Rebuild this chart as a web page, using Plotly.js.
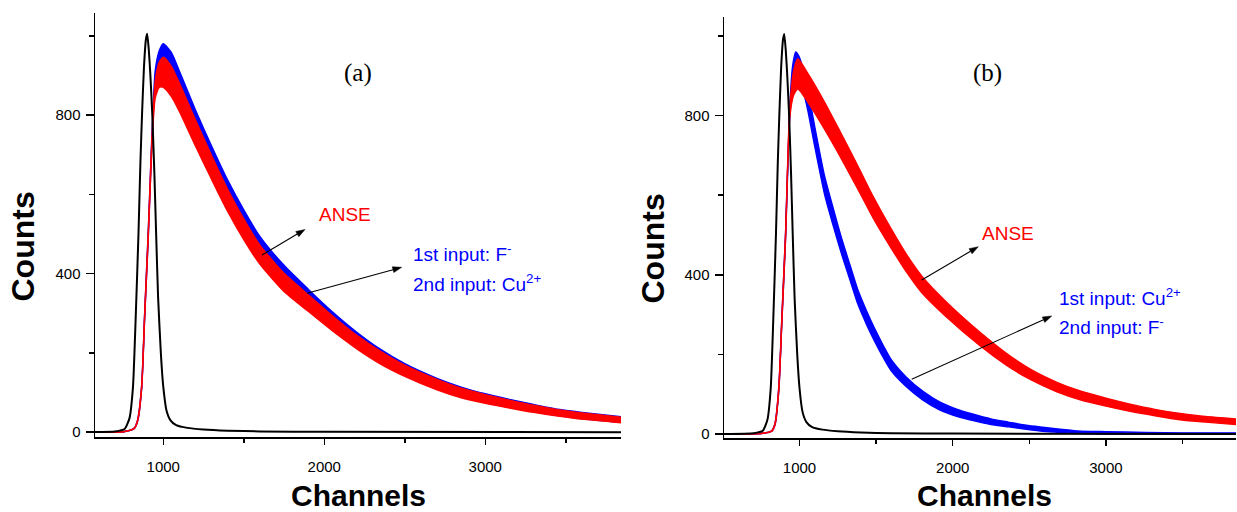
<!DOCTYPE html>
<html>
<head>
<meta charset="utf-8">
<script src="https://cdn.plot.ly/plotly-3.0.1.min.js"></script>
<style>html,body{margin:0;padding:0;background:#fff;}#chart{width:1237px;height:512px;}</style>
</head>
<body>
<div id="chart"></div>
<script>
// ---------- DATA ----------
// Panel (a)
const chA      = [576,760,820,841,866,885,907,925,938,950,975,1000,1050,1100,1200,1300,1400,1500,1600,1750,1900,2050,2200,2350,2500,2700,2850,3000,3150,3300,3450,3600,3843];
const anseA    = [0,2,10,30,115,300,500,690,800,865,902,908,885,845,755,668,585,512,448,378,326,275,228,188,155,120,99,84,71,59,49,41,31];
const inputA   = [0,2,10,30,115,300,500,695,815,890,930,942,920,875,780,692,608,535,470,398,340,285,236,193,159,123,102,86,73,61,50,42,32];
const noiseA   = [0,0,1,2,4,6,8,10,14,22,32,38,38,36,33,30,28,26,24,23,21,19,17,16,14,13,12,11,10,9,8,8,7];

// Reference peak (black), same in both panels
const chRef    = [500,700,760,790,812,828,846,858,868,880,892,900,910,920,932,945,955,968,985,1000,1020,1045,1080,1150,1250,1400,1600,2000,3850];
const refCounts= [0,2,8,35,115,280,500,680,800,920,990,1005,965,900,800,650,510,340,200,115,55,30,18,11,7,4,2,1,0];

// Panel (b)
const chB_anse = [507,760,820,840,865,885,909,935,960,989,1054,1163,1270,1380,1480,1600,1700,1800,1950,2180,2350,2506,2680,2832,3000,3158,3320,3484,3650,3849];
const anseB    = [0,2,8,25,115,290,500,800,880,905,870,800,725,645,570,490,428,375,316,238,188,150,118,97,80,66,54,44,37,31];
const noiseB_anse = [0,0,1,2,4,6,8,12,30,38,36,34,31,29,27,24,22,21,19,17,15,13,12,11,10,9,8,8,7,7];

const chB_in   = [507,760,820,840,865,885,909,935,955,975,995,1030,1054,1098,1163,1220,1272,1330,1380,1440,1489,1550,1600,1694,1806,1917,2030,2141,2250,2363,2480,2587,2700,2810,3000,3256,3500,3849];
const inputB   = [0,2,8,25,115,290,500,800,900,930,920,880,840,750,626,545,475,405,345,290,250,205,172,132,96,70,53,41,31,24,17,12,8,5,3,2,1,1];
const noiseB_in= [0,0,1,2,4,6,8,12,25,30,30,28,27,25,23,22,20,19,18,17,16,15,14,12,11,10,9,8,7,6,5,5,4,3,3,2,2,2];

const xTicks = [1000,2000,3000];
const xMinor = [1500,2500,3500];
const yTicks = [0,400,800];
const yMinor = [200,600,1000];

// ---------- BUILD ----------
const W = 1237, H = 512;
const RED = '#ff0000', BLUE = '#0000ff';

function band(x, mid, spread, color, xa, ya) {
  const lo = mid.map((v,i)=>v - spread[i]);
  const hi = mid.map((v,i)=>v + spread[i]);
  return [
    {x:x, y:lo, xaxis:xa, yaxis:ya, mode:'lines', line:{color:color, width:1.4, shape:'spline', smoothing:0.6}, hoverinfo:'skip'},
    {x:x, y:hi, xaxis:xa, yaxis:ya, mode:'lines', line:{color:color, width:1.4, shape:'spline', smoothing:0.6}, fill:'tonexty', fillcolor:color, hoverinfo:'skip'}
  ];
}
function ref(xa, ya){
  return {x:chRef, y:refCounts, xaxis:xa, yaxis:ya, mode:'lines', line:{color:'#000', width:2, shape:'spline', smoothing:0.5}, hoverinfo:'skip'};
}

const traces = [].concat(
  band(chA, inputA, noiseA, BLUE, 'x', 'y'),
  band(chA, anseA, noiseA, RED, 'x', 'y'),
  [ref('x','y')],
  band(chB_in, inputB, noiseB_in, BLUE, 'x2', 'y2'),
  band(chB_anse, anseB, noiseB_anse, RED, 'x2', 'y2'),
  [ref('x2','y2')]
);

const FONT = 'Liberation Sans, Arial, sans-serif';
function xax(domain, range, anchor){
  return {domain:domain, range:range, anchor:anchor, showline:true, linecolor:'#000', linewidth:1.5,
    ticks:'outside', ticklen:6, tickwidth:1.5, tickcolor:'#000', tickmode:'array', tickvals:xTicks,
    minor:{tickmode:'array', tickvals:xMinor, ticks:'outside', ticklen:4, tickwidth:1.5, tickcolor:'#000', showgrid:false},
    showgrid:false, zeroline:false, tickfont:{family:FONT, size:15, color:'#000'}, ticklabelstandoff:9, fixedrange:true};
}
function yax(domain, range, anchor){
  return {domain:domain, range:range, anchor:anchor, showline:true, linecolor:'#000', linewidth:1.5,
    ticks:'outside', ticklen:8, tickwidth:1.5, tickcolor:'#000', tickmode:'array', tickvals:yTicks,
    minor:{tickmode:'array', tickvals:yMinor, ticks:'outside', ticklen:5, tickwidth:1.5, tickcolor:'#000', showgrid:false},
    showgrid:false, zeroline:false, tickfont:{family:FONT, size:15, color:'#000'}, ticklabelstandoff:2, fixedrange:true};
}

function P(px){ return px / W; }
function Q(py){ return 1 - py / H; }

function label(text, px, py, opts){
  return Object.assign({text:text, x:P(px), y:Q(py), xref:'paper', yref:'paper', showarrow:false,
    xanchor:'center', yanchor:'middle', font:{family:FONT, size:19, color:'#000'}}, opts||{});
}
// arrow as shapes: a line plus a filled triangular head (pixel positions -> paper)
function arrowShapes(tx, ty, hx, hy){
  const dx = hx - tx, dy = hy - ty, L = Math.hypot(dx, dy);
  const ux = dx / L, uy = dy / L, nx = -uy, ny = ux;
  const len = 9, half = 3;
  const bx = hx - len*ux, by = hy - len*uy;
  const c1x = bx + half*nx, c1y = by + half*ny, c2x = bx - half*nx, c2y = by - half*ny;
  return [
    {type:'line', xref:'paper', yref:'paper', x0:P(tx), y0:Q(ty), x1:P(bx), y1:Q(by), line:{color:'#000', width:1.1}},
    {type:'path', xref:'paper', yref:'paper',
     path:'M'+P(hx)+','+Q(hy)+' L'+P(c1x)+','+Q(c1y)+' L'+P(c2x)+','+Q(c2y)+' Z',
     fillcolor:'#000', line:{color:'#000', width:0.5}}
  ];
}

const annotations = [
  label('Counts', 22.5, 247, {textangle:-90, font:{family:FONT, size:32, color:'#000', weight:'bold'}}),
  label('Counts', 652.5, 249, {textangle:-90, font:{family:FONT, size:32, color:'#000', weight:'bold'}}),
  label('Channels', 358.5, 495, {font:{family:FONT, size:30, color:'#000', weight:'bold'}}),
  label('Channels', 984, 495, {font:{family:FONT, size:30, color:'#000', weight:'bold'}}),
  label('(a)', 358, 73, {font:{family:'Liberation Serif, Times New Roman, serif', size:25, color:'#000'}}),
  label('(b)', 987, 73, {font:{family:'Liberation Serif, Times New Roman, serif', size:25, color:'#000'}}),
  label('ANSE', 344.5, 214, {font:{family:FONT, size:19, color:RED}}),
  label('1st input: F<sup>-</sup>', 411, 253, {xanchor:'left', font:{family:FONT, size:19, color:BLUE}}),
  label('2nd input: Cu<sup>2+</sup>', 411, 283, {xanchor:'left', font:{family:FONT, size:19, color:BLUE}}),
  label('ANSE', 1008, 233, {font:{family:FONT, size:19, color:RED}}),
  label('1st input: Cu<sup>2+</sup>', 1056.7, 297, {xanchor:'left', font:{family:FONT, size:19, color:BLUE}}),
  label('2nd input: F<sup>-</sup>', 1056.7, 326, {xanchor:'left', font:{family:FONT, size:19, color:BLUE}})
];

const shapes = [].concat(
  arrowShapes(262, 255, 305, 229.5),
  arrowShapes(307, 293.3, 401.7, 267.3),
  arrowShapes(921.7, 280, 978.3, 246.7),
  arrowShapes(911.7, 379.3, 1051.7, 316)
);

const layout = {
  width:W, height:H, margin:{l:0, r:0, t:0, b:0}, paper_bgcolor:'#fff', plot_bgcolor:'rgba(0,0,0,0)',
  showlegend:false,
  xaxis: xax([95/W, 621/W], [576, 3843], 'y'),
  yaxis: yax([1-437/H, 1-13/H], [-12, 1057.5], 'x'),
  xaxis2: xax([724/W, 1236/W], [507, 3849], 'y2'),
  yaxis2: yax([1-438/H, 1-16.7/H], [-10, 1048.5], 'x2'),
  annotations: annotations,
  shapes: shapes
};

Plotly.newPlot('chart', traces, layout, {displayModeBar:false, staticPlot:true});
</script>
</body>
</html>
